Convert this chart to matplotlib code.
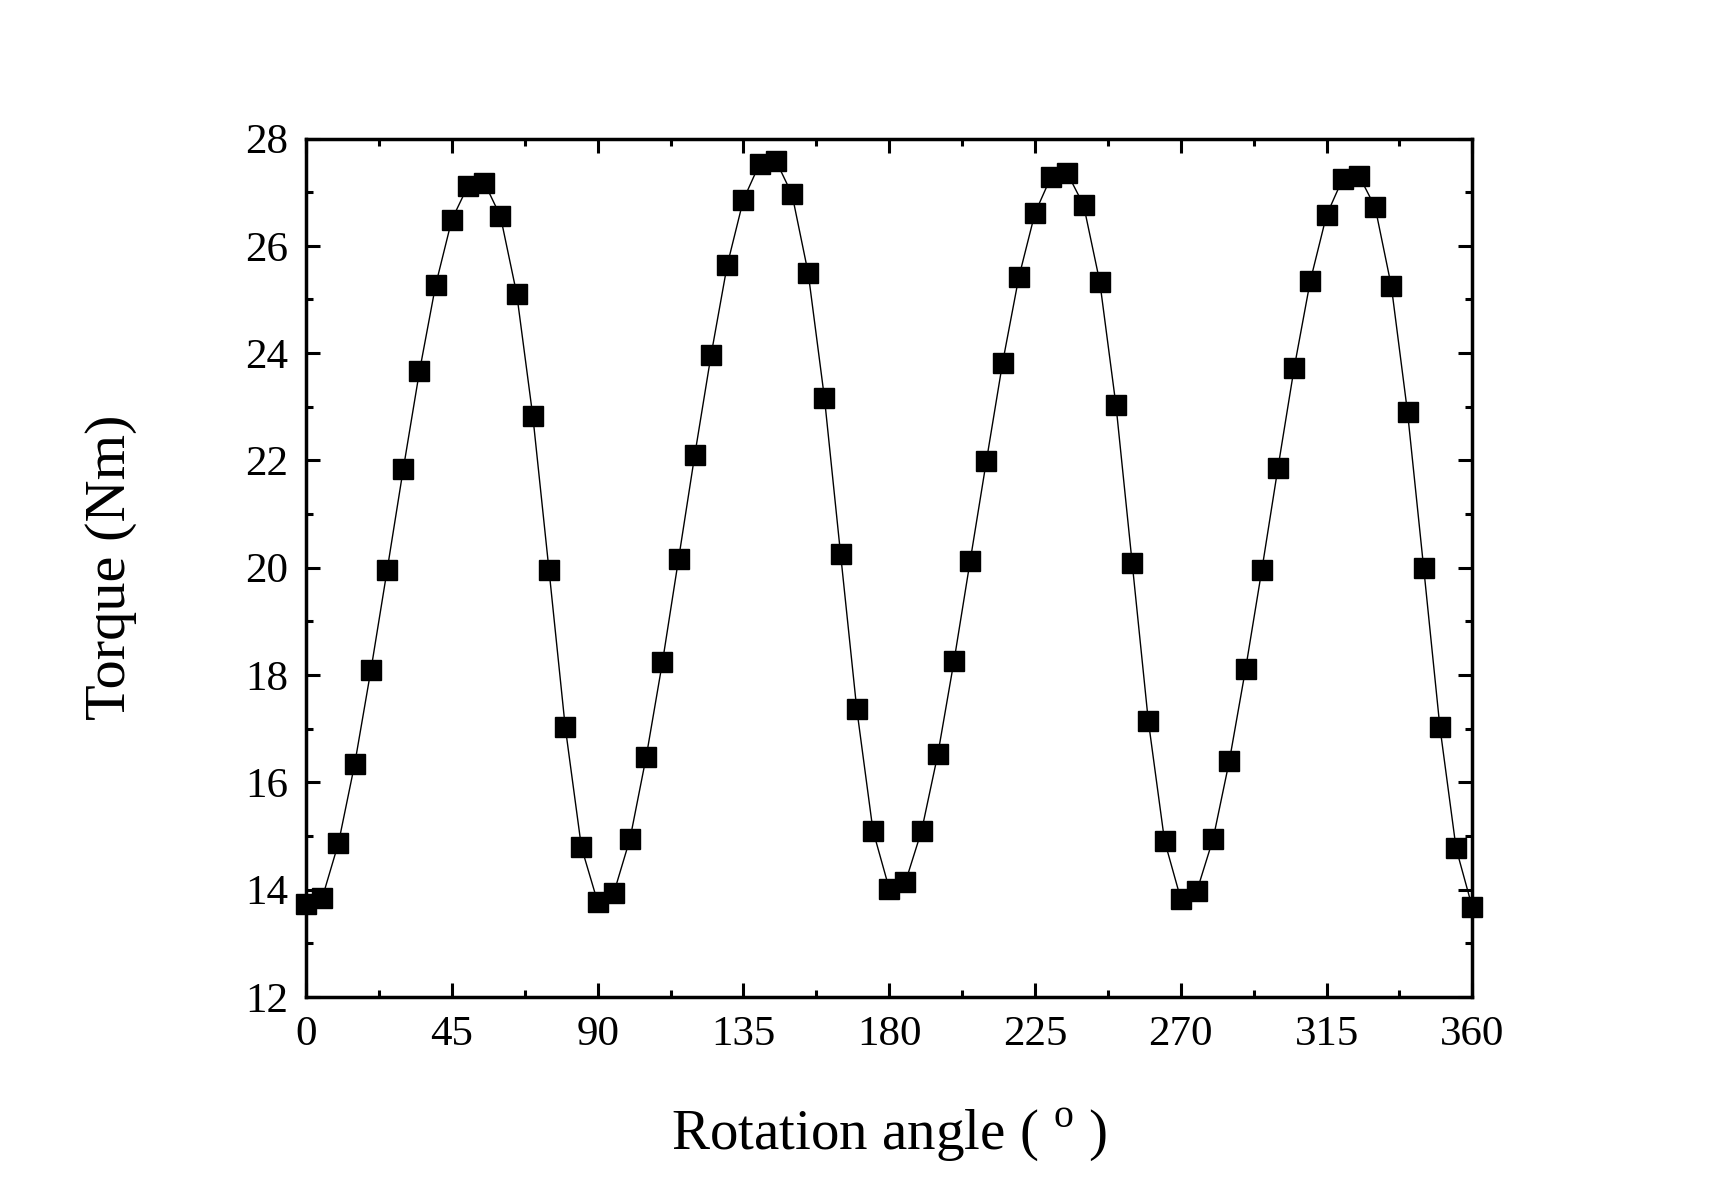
import numpy as np
import matplotlib
matplotlib.use("Agg")
import matplotlib.pyplot as plt
from matplotlib.ticker import MultipleLocator

angle = np.arange(0, 361, 5)
torque = [13.73, 13.85, 14.87, 16.34, 18.09, 19.95, 21.84, 23.66, 25.27, 26.49,
          27.12, 27.18, 26.55, 25.11, 22.82, 19.95, 17.03, 14.79, 13.77, 13.94,
          14.95, 16.48, 18.24, 20.17, 22.11, 23.96, 25.64, 26.86, 27.53, 27.59,
          26.96, 25.49, 23.17, 20.25, 17.36, 15.10, 14.02, 14.14, 15.10, 16.52,
          18.26, 20.13, 21.99, 23.82, 25.41, 26.61, 27.29, 27.35, 26.76, 25.33,
          23.03, 20.09, 17.14, 14.91, 13.83, 13.98, 14.95, 16.40, 18.11, 19.95,
          21.86, 23.72, 25.35, 26.57, 27.25, 27.31, 26.72, 25.25, 22.90, 19.99,
          17.03, 14.77, 13.67]

x_ticks = [0, 45, 90, 135, 180, 225, 270, 315, 360]
y_ticks = [12, 14, 16, 18, 20, 22, 24, 26, 28]

plt.rcParams['font.family'] = ['Liberation Serif', 'DejaVu Serif']
plt.rcParams['mathtext.fontset'] = 'custom'
plt.rcParams['mathtext.rm'] = 'Liberation Serif'

fig = plt.figure(figsize=(17.1, 11.94), dpi=100)
ax = fig.add_axes([0.179, 0.165, 0.682, 0.719])

ax.plot(angle, torque, color='black', linewidth=1.0, marker='s',
        markersize=15, markerfacecolor='black', markeredgecolor='black',
        clip_on=False, zorder=3)

ax.set_xlim(0, 360)
ax.set_ylim(12, 28)
ax.set_xticks(x_ticks)
ax.set_yticks(y_ticks)
ax.xaxis.set_minor_locator(MultipleLocator(22.5))
ax.yaxis.set_minor_locator(MultipleLocator(1))

ax.tick_params(which='both', direction='in', top=True, right=True, width=2.2)
ax.tick_params(which='major', length=10, labelsize=31, pad=13)
ax.tick_params(which='minor', length=5)
for s in ax.spines.values():
    s.set_linewidth(2.5)

ax.set_xlabel(r"Rotation angle ( $^{\rm o}$ )", fontsize=41, labelpad=38)
ax.set_ylabel("Torque (Nm)", fontsize=42, labelpad=78)

fig.savefig("out.png", dpi=100)
